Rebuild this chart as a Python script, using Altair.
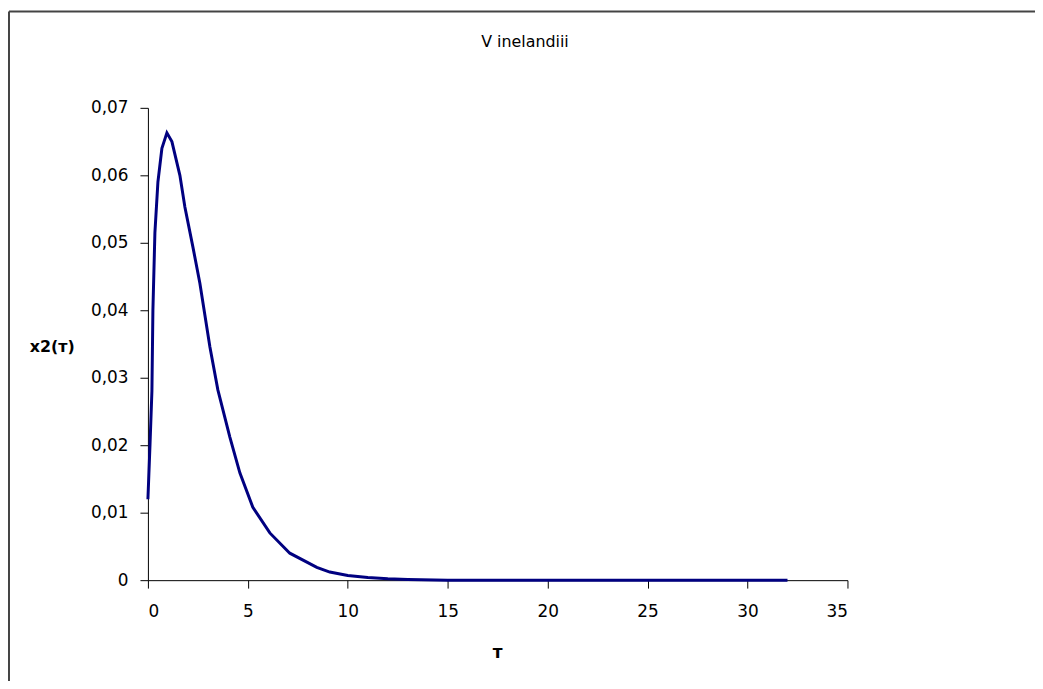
import altair as alt
import pandas as pd

# Curve values
tau = [0, 0.1, 0.2, 0.25, 0.35, 0.5, 0.7, 0.95, 1.2, 1.6, 1.85, 2.25, 2.6, 3.1, 3.5,
       4.1, 4.6, 5.25, 6.1, 7.1, 8.45, 9.1, 10, 11, 12, 13, 15, 20, 25, 32]
x2 = [0.012, 0.0197, 0.028, 0.040, 0.0515, 0.059, 0.064, 0.0663, 0.065, 0.060, 0.0553,
      0.0494, 0.044, 0.0346, 0.0282, 0.0212, 0.0159, 0.0108, 0.0070, 0.0040, 0.0019,
      0.0012, 0.0007, 0.0004, 0.0002, 0.0001, 0.0, 0.0, 0.0, 0.0]

x_ticks = [0, 5, 10, 15, 20, 25, 30, 35]
y_ticks = [0, 0.01, 0.02, 0.03, 0.04, 0.05, 0.06, 0.07]
title_text = ["V inelandiii"]

df = pd.DataFrame({"tau": tau, "x2": x2})
tdf = pd.DataFrame({"t": title_text})
FONT = "DejaVu Sans"

line = alt.Chart(df).mark_line(color="#000080", strokeWidth=3).encode(
    x=alt.X("tau:Q",
            scale=alt.Scale(domain=[0, 35], nice=False, zero=False),
            axis=alt.Axis(values=x_ticks, title="т", grid=False,
                          domainColor="#000", tickColor="#000", tickSize=8,
                          labelFont=FONT, labelFontSize=17, labelColor="#000",
                          labelPadding=16,
                          titleFont=FONT, titleFontSize=17, titleFontWeight="bold",
                          titleColor="#000", titleX=352, titleY=73,
                          titleBaseline="middle", titleAlign="center")),
    y=alt.Y("x2:Q",
            scale=alt.Scale(domain=[0, 0.07], nice=False),
            axis=alt.Axis(values=y_ticks, title="x2(т)", grid=False,
                          labelExpr="datum.value == 0 ? '0' : replace(format(datum.value, '.2f'), '.', ',')",
                          domainColor="#000", tickColor="#000", tickSize=8,
                          labelFont=FONT, labelFontSize=17, labelColor="#000",
                          labelPadding=12,
                          titleFont=FONT, titleFontSize=16, titleFontWeight="bold",
                          titleColor="#000", titleAngle=0, titleX=-97, titleY=241,
                          titleBaseline="middle", titleAlign="center")),
)

title = alt.Chart(tdf).mark_text(font=FONT, fontSize=16, color="#000",
                                 align="center", baseline="middle").encode(
    text="t:N", x=alt.value(380), y=alt.value(-66)
)

frame_left = alt.Chart(tdf).mark_rule(color="#444", strokeWidth=2).encode(
    x=alt.value(-140), y=alt.value(-97), y2=alt.value(600)
)
frame_top = alt.Chart(tdf).mark_rule(color="#444", strokeWidth=2).encode(
    x=alt.value(-140), x2=alt.value(950), y=alt.value(-97)
)

chart = alt.layer(frame_left, frame_top, title, line).properties(
    width=705,
    height=476,
    autosize=alt.AutoSizeParams(type="none"),
    padding={"left": 141, "top": 98, "right": 189, "bottom": 99},
).configure_view(stroke="transparent", strokeWidth=0)

chart.save("out.html", embed_options={"renderer": "svg", "actions": False})
